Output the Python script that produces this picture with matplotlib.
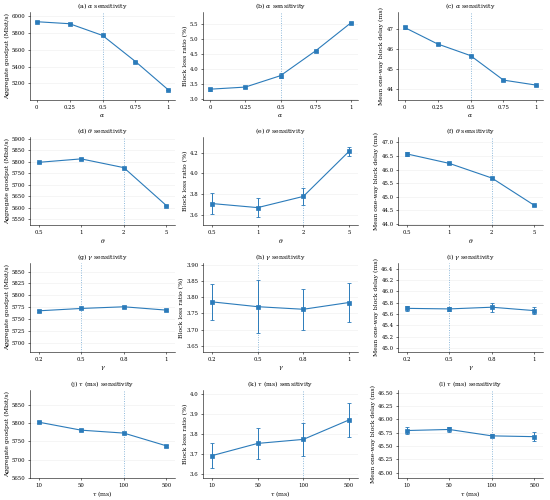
import numpy as np
import matplotlib
matplotlib.use("Agg")
import matplotlib.pyplot as plt

plt.rcParams['font.family'] = ['DejaVu Serif']
plt.rcParams['mathtext.fontset'] = 'dejavuserif'

# sweep values (categorical x)
alpha_vals = ['0', '0.25', '0.5', '0.75', '1']
theta_vals = ['0.5', '1', '2', '5']
gamma_vals = ['0.2', '0.5', '0.8', '1']
tau_vals = ['10', '50', '100', '500']

# alpha sweep
alpha_goodput = [5936, 5912, 5772, 5460, 5120]
alpha_goodput_err = [4, 4, 5, 4, 4]
alpha_loss = [3.33, 3.40, 3.78, 4.61, 5.54]
alpha_loss_err = [0.05, 0.03, 0.08, 0.04, 0.02]
alpha_delay = [47.08, 46.26, 45.68, 44.46, 44.21]
alpha_delay_err = [0.07, 0.04, 0.02, 0.02, 0.02]

# theta sweep
theta_goodput = [5797, 5812, 5774, 5609]
theta_goodput_err = [3, 3, 3, 3]
theta_loss = [3.707, 3.668, 3.776, 4.21]
theta_loss_err = [0.10, 0.093, 0.085, 0.04]
theta_delay = [46.58, 46.23, 45.69, 44.68]
theta_delay_err = [0.08, 0.03, 0.02, 0.03]

# gamma sweep
gamma_goodput = [5767.5, 5772.5, 5776, 5769]
gamma_goodput_err = [1.5, 1.5, 1.5, 1.5]
gamma_loss = [3.786, 3.771, 3.763, 3.784]
gamma_loss_err = [0.057, 0.082, 0.063, 0.062]
gamma_delay = [45.70, 45.69, 45.72, 45.66]
gamma_delay_err = [0.05, 0.04, 0.08, 0.06]

# tau sweep
tau_goodput = [5803, 5781, 5773, 5738]
tau_goodput_err = [2, 2, 2, 2]
tau_loss = [3.692, 3.753, 3.773, 3.870]
tau_loss_err = [0.062, 0.078, 0.082, 0.085]
tau_delay = [45.79, 45.81, 45.69, 45.675]
tau_delay_err = [0.07, 0.045, 0.03, 0.085]

rows = [
    (r'$\alpha$', alpha_vals, '0.5',
     [(alpha_goodput, alpha_goodput_err), (alpha_loss, alpha_loss_err), (alpha_delay, alpha_delay_err)]),
    (r'$\theta$', theta_vals, '2',
     [(theta_goodput, theta_goodput_err), (theta_loss, theta_loss_err), (theta_delay, theta_delay_err)]),
    (r'$\gamma$', gamma_vals, '0.5',
     [(gamma_goodput, gamma_goodput_err), (gamma_loss, gamma_loss_err), (gamma_delay, gamma_delay_err)]),
    (r'$\tau$ (ms)', tau_vals, '100',
     [(tau_goodput, tau_goodput_err), (tau_loss, tau_loss_err), (tau_delay, tau_delay_err)]),
]

ylabels = ['Aggregate goodput (Mbit/s)', 'Block loss ratio (%)', 'Mean one-way block delay (ms)']

ylims = [
    [(5000, 6052), (2.97, 5.9), (43.47, 47.85)],
    [(5525, 5907), (3.50, 4.35), (43.96, 47.2)],
    [(5681, 5868), (3.63, 3.907), (44.93, 46.5)],
    [(5650, 5891), (3.58, 4.02), (44.9, 46.55)],
]

yticks = [
    [np.arange(5200, 6001, 200), np.arange(3.0, 5.51, 0.5), np.arange(44, 47.1, 1)],
    [np.arange(5550, 5901, 50), np.arange(3.6, 4.21, 0.2), np.arange(44.0, 47.01, 0.5)],
    [np.arange(5700, 5851, 25), np.arange(3.65, 3.901, 0.05), np.arange(45.0, 46.41, 0.2)],
    [np.arange(5650, 5851, 50), np.arange(3.6, 4.01, 0.1), np.arange(45.0, 46.51, 0.25)],
]
yfmt = [
    ['%d', '%.1f', '%d'],
    ['%d', '%.1f', '%.1f'],
    ['%d', '%.2f', '%.1f'],
    ['%d', '%.1f', '%.2f'],
]

# axes boxes in pixels (left, right) and (top, bottom)
col_px = [(30, 175), (203, 358), (398, 543)]
row_px = [(12, 100), (137, 225), (263, 352), (390, 478)]
W, H = 550.0, 500.0

color = '#2b7bba'
fig, axes = plt.subplots(4, 3, figsize=(11, 10), dpi=50)

letters = 'abcdefghijkl'
for r, (pname, vals, default, series) in enumerate(rows):
    x = np.arange(len(vals))
    for c, (y, err) in enumerate(series):
        ax = axes[r][c]
        x0, x1 = col_px[c]
        y0, y1 = row_px[r]
        ax.set_position([x0 / W, 1 - y1 / H, (x1 - x0) / W, (y1 - y0) / H])
        ax.errorbar(x, y, yerr=err, color=color, marker='s', markersize=5,
                    linewidth=1.6, capsize=3, elinewidth=1.4, capthick=1.2)
        ax.axvline(vals.index(default), color=color, linestyle=':', linewidth=1.3, alpha=0.6)
        ax.set_xticks(x)
        ax.set_xticklabels(vals)
        ax.set_xlim(-0.2, len(vals) - 1 + 0.2)
        ax.set_ylim(*ylims[r][c])
        ax.set_yticks(yticks[r][c])
        ax.set_yticklabels([yfmt[r][c] % v for v in yticks[r][c]])
        ax.set_xlabel(pname, fontsize=8.8, labelpad=3)
        ax.set_ylabel(ylabels[c], fontsize=8.8, labelpad=3)
        ax.set_title('(%s) %s sensitivity' % (letters[r * 3 + c], pname), fontsize=9)
        ax.tick_params(labelsize=7.8, length=3)
        ax.grid(axis='y', color='#eeeeee', linewidth=0.8)
        ax.set_axisbelow(True)
        ax.spines['top'].set_visible(False)
        ax.spines['right'].set_visible(False)

fig.savefig('out.png', dpi=50)
